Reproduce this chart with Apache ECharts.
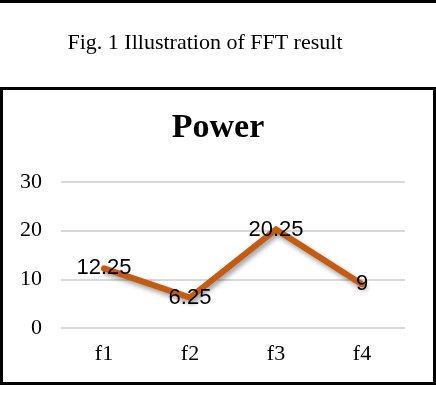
<!DOCTYPE html>
<html>
<head>
<meta charset="utf-8">
<script src="https://cdn.jsdelivr.net/npm/echarts@6/dist/echarts.min.js"></script>
<style>
html,body{margin:0;padding:0;background:#fff;}
#c{width:436px;height:418px;}
</style>
</head>
<body>
<div id="c"></div>
<script>
var categories = ['f1', 'f2', 'f3', 'f4'];
var powerValues = [12.25, 6.25, 20.25, 9];
var chartTitle = 'Power';
var caption = 'Fig. 1 Illustration of FFT result';

var chart = echarts.init(document.getElementById('c'), null, {renderer: 'canvas'});
chart.setOption({
  animation: false,
  backgroundColor: '#ffffff',
  graphic: [
    {type: 'rect', shape: {x: 1.5, y: -20, width: 433, height: 21.5}, style: {fill: 'none', stroke: '#000', lineWidth: 3}},
    {type: 'rect', shape: {x: 1.5, y: 88.5, width: 433, height: 295}, style: {fill: 'none', stroke: '#000', lineWidth: 3}},
    {type: 'text', x: 205, y: 43, style: {text: caption, font: '22px "Liberation Serif"', fill: '#000', textAlign: 'center', textVerticalAlign: 'middle'}},
    {type: 'text', x: 218, y: 128, style: {text: chartTitle, font: 'bold 34px "Liberation Serif"', fill: '#000', textAlign: 'center', textVerticalAlign: 'middle'}}
  ],
  grid: {left: 61, right: 31, top: 182, bottom: 90, containLabel: false},
  xAxis: {
    type: 'category',
    data: categories,
    boundaryGap: true,
    axisLine: {show: false},
    axisTick: {show: false},
    axisLabel: {margin: 15, color: '#000', fontFamily: 'Liberation Serif', fontSize: 22}
  },
  yAxis: {
    type: 'value',
    min: 0, max: 30, interval: 10,
    axisLine: {show: false},
    axisTick: {show: false},
    axisLabel: {margin: 19, color: '#000', fontFamily: 'Liberation Serif', fontSize: 22},
    splitLine: {lineStyle: {color: '#d9d9d9', width: 2}}
  },
  series: [{
    type: 'line',
    data: powerValues,
    symbol: 'circle',
    symbolSize: 5,
    itemStyle: {color: '#C55A11'},
    lineStyle: {color: '#C55A11', width: 6, shadowColor: 'rgba(0,0,0,0.4)', shadowBlur: 5, shadowOffsetX: 2, shadowOffsetY: 3, cap: 'round', join: 'miter'},
    label: {show: true, position: 'inside', color: '#000', fontFamily: 'Liberation Sans', fontSize: 22}
  }]
});
</script>
</body>
</html>
